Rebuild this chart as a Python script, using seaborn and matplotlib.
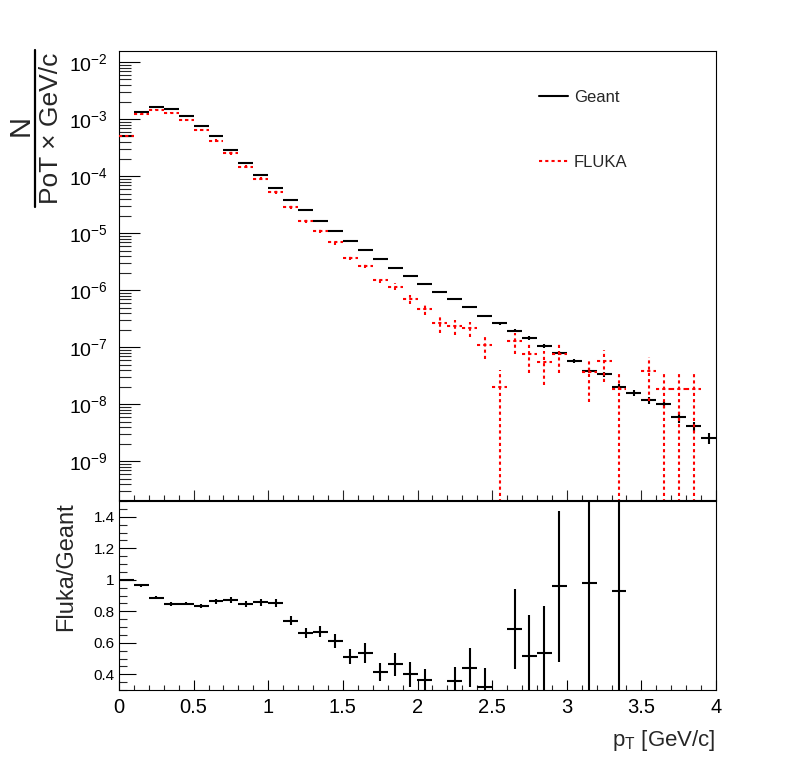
import matplotlib
matplotlib.use("Agg")
import matplotlib.pyplot as plt
from matplotlib.lines import Line2D
from matplotlib.ticker import MultipleLocator, FixedLocator, FuncFormatter, NullFormatter, LogFormatterSciNotation
import numpy as np
import pandas as pd
import seaborn as sns

# 40 bins of 0.1 GeV/c between 0 and 4
pt_low = np.round(np.arange(0.0, 4.0, 0.1), 1)
bin_half_width = 0.05

geant = [5.15e-4, 1.33e-3, 1.66e-3, 1.54e-3, 1.16e-3, 7.7e-4, 5.04e-4, 2.93e-4,
         1.73e-4, 1.05e-4, 6.3e-5, 3.89e-5, 2.56e-5, 1.66e-5, 1.10e-5, 7.33e-6,
         5.1e-6, 3.54e-6, 2.46e-6, 1.81e-6, 1.31e-6, 9.46e-7, 7.04e-7, 5.09e-7,
         3.54e-7, 2.67e-7, 1.95e-7, 1.46e-7, 1.05e-7, 8.04e-8, 5.75e-8, 3.88e-8,
         3.4e-8, 2.04e-8, 1.58e-8, 1.19e-8, 1.01e-8, 5.98e-9, 4.16e-9, 2.57e-9]
geant_rel_err = [0.005, 0.005, 0.005, 0.005, 0.005, 0.006, 0.007, 0.008,
                 0.01, 0.01, 0.012, 0.015, 0.015, 0.02, 0.02, 0.025,
                 0.025, 0.03, 0.03, 0.035, 0.04, 0.04, 0.045, 0.05,
                 0.055, 0.06, 0.065, 0.07, 0.075, 0.08, 0.09, 0.1,
                 0.1, 0.12, 0.11, 0.14, 0.15, 0.21, 0.2, 0.23]

fluka = [5.15e-4, 1.24e-3, 1.46e-3, 1.31e-3, 9.7e-4, 6.5e-4, 4.2e-4, 2.57e-4,
         1.48e-4, 9.1e-5, 5.37e-5, 2.93e-5, 1.66e-5, 1.10e-5, 6.95e-6, 3.73e-6,
         2.7e-6, 1.5e-6, 1.16e-6, 7.0e-7, 4.7e-7, 2.67e-7, 2.36e-7, 2.18e-7,
         1.1e-7, 2.04e-8, 1.29e-7, 7.6e-8, 5.5e-8, 7.6e-8, 0.0, 3.7e-8,
         5.8e-8, 1.88e-8, 0.0, 3.9e-8, 1.88e-8, 1.88e-8, 1.88e-8, 0.0]
fluka_rel_err = [0.02, 0.02, 0.02, 0.02, 0.04, 0.05, 0.06, 0.07,
                 0.07, 0.07, 0.07, 0.08, 0.08, 0.08, 0.1, 0.1,
                 0.1, 0.12, 0.14, 0.17, 0.22, 0.33, 0.3, 0.3,
                 0.43, 1.0, 0.4, 0.53, 0.6, 0.53, 0.0, 0.7,
                 0.58, 1.0, 0.0, 0.71, 1.0, 1.0, 1.0, 0.0]

nan = np.nan
ratio = [1.0, 0.964, 0.886, 0.847, 0.849, 0.832, 0.863, 0.87,
         0.847, 0.857, 0.851, 0.741, 0.661, 0.67, 0.611, 0.512,
         0.533, 0.412, 0.464, 0.40, 0.365, nan, 0.359, 0.441,
         0.32, nan, 0.687, 0.515, 0.535, 0.958, nan, 0.977,
         nan, 0.926, nan, nan, nan, nan, nan, nan]
ratio_err = [0.005, 0.008, 0.01, 0.012, 0.012, 0.014, 0.016, 0.018,
             0.02, 0.022, 0.024, 0.027, 0.03, 0.035, 0.046, 0.048,
             0.063, 0.057, 0.074, 0.078, 0.067, 0.0, 0.09, 0.124,
             0.12, 0.0, 0.256, 0.26, 0.30, 0.48, 0.0, 0.75,
             0.0, 0.93, 0.0, 0.0, 0.0, 0.0, 0.0, 0.0]

decades = [1e-9, 1e-8, 1e-7, 1e-6, 1e-5, 1e-4, 1e-3, 1e-2]
ratio_ticks = [0.4, 0.6, 0.8, 1.0, 1.2, 1.4]

df = pd.DataFrame({
    "pt": pt_low + bin_half_width,
    "geant": geant,
    "geant_err": np.array(geant) * np.array(geant_rel_err),
    "fluka": fluka,
    "fluka_err": np.array(fluka) * np.array(fluka_rel_err),
    "ratio": ratio,
    "ratio_err": ratio_err,
})

sns.set_theme(style="ticks")
plt.rcParams["font.family"] = ["Liberation Sans", "DejaVu Sans"]
plt.rcParams["mathtext.fontset"] = "custom"
plt.rcParams["mathtext.rm"] = "Liberation Sans"
plt.rcParams["mathtext.it"] = "Liberation Sans:italic"
plt.rcParams["axes.linewidth"] = 0.8
plt.rcParams["axes.edgecolor"] = "black"

LW = 1.5
DASH = (0, (1.5, 1.5))
W, H = 796, 772


def draw_hist(ax, x, y, err, color, ls, floor):
    ok = ~np.isnan(y) & (y > 0)
    x, y, err = x[ok], y[ok], err[ok]
    lo = np.maximum(y - err, floor)
    ax.vlines(x, lo, y + err, colors=color, linestyles=ls, linewidth=LW, zorder=3)
    ax.hlines(y, x - bin_half_width, x + bin_half_width, colors=color,
              linestyles=ls, linewidth=LW, zorder=3)


fig = plt.figure(figsize=(W / 100, H / 100), dpi=100)
ax_top = fig.add_axes([119 / W, (H - 500) / H, 597 / W, 449.3 / H])
ax_bot = fig.add_axes([119 / W, (H - 690) / H, 597 / W, 189 / H])

x = df["pt"].to_numpy()

# upper pad: spectra
ax_top.set_yscale("log")
draw_hist(ax_top, x, df["geant"].to_numpy(), df["geant_err"].to_numpy(), "black", "solid", 1e-14)
draw_hist(ax_top, x, df["fluka"].to_numpy(), df["fluka_err"].to_numpy(), "red", DASH, 1e-14)
ax_top.set_xlim(0, 4)
ax_top.set_ylim(2.1e-10, 1.6e-2)
ax_top.yaxis.set_major_locator(FixedLocator(decades))
ax_top.yaxis.set_major_formatter(LogFormatterSciNotation())
minor_y = [m * d for d in [1e-10] + decades for m in range(2, 10) if 2.1e-10 < m * d < 1.6e-2]
ax_top.yaxis.set_minor_locator(FixedLocator(minor_y))
ax_top.yaxis.set_minor_formatter(NullFormatter())
ax_top.xaxis.set_major_locator(MultipleLocator(0.5))
ax_top.xaxis.set_minor_locator(MultipleLocator(0.1))
ax_top.tick_params(axis="y", which="major", direction="in", length=15, width=0.8,
                   left=True, right=False, labelsize=14, pad=8, colors="black")
ax_top.tick_params(axis="y", which="minor", direction="in", length=8.5, width=0.8,
                   left=True, right=False)
ax_top.tick_params(axis="x", which="major", direction="in", length=7, width=0.8,
                   bottom=True, top=False, labelbottom=False)
ax_top.tick_params(axis="x", which="minor", direction="in", length=3.6, width=0.8,
                   bottom=True, top=False)

legend_handles = [
    Line2D([], [], color="black", lw=LW),
    Line2D([], [], color="red", lw=LW, ls=DASH),
]
fig.legend(legend_handles, ["Geant", "FLUKA"], loc="upper left",
           bbox_to_anchor=(539 / W, 1 - 90 / H), frameon=False, fontsize=12,
           labelspacing=3.0, handlelength=1.75, handletextpad=0.35,
           borderpad=0, borderaxespad=0)

# lower pad: ratio
draw_hist(ax_bot, x, df["ratio"].to_numpy(), df["ratio_err"].to_numpy(), "black", "solid", -1.0)
ax_bot.set_xlim(0, 4)
ax_bot.set_ylim(0.3, 1.5)
ax_bot.yaxis.set_major_locator(FixedLocator(ratio_ticks))
ax_bot.yaxis.set_minor_locator(MultipleLocator(0.05))
ax_bot.yaxis.set_major_formatter(FuncFormatter(lambda v, _: f"{v:g}"))
ax_bot.xaxis.set_major_locator(MultipleLocator(0.5))
ax_bot.xaxis.set_minor_locator(MultipleLocator(0.1))
ax_bot.xaxis.set_major_formatter(FuncFormatter(lambda v, _: f"{v:g}"))
ax_bot.tick_params(axis="y", which="major", direction="in", length=12, width=0.8,
                   left=True, right=False, labelsize=11, pad=3, colors="black")
ax_bot.tick_params(axis="y", which="minor", direction="in", length=6, width=0.8,
                   left=True, right=False)
ax_bot.tick_params(axis="x", which="major", direction="in", length=7, width=0.8,
                   bottom=True, top=False, labelsize=14.5, pad=6, colors="black")
ax_bot.tick_params(axis="x", which="minor", direction="in", length=3.6, width=0.8,
                   bottom=True, top=False)
ax_bot.set_xlabel(r"p$_\mathregular{T}$ [GeV/c]", loc="right", fontsize=16, labelpad=8)

for ax in (ax_top, ax_bot):
    ax.set_facecolor("white")
    for sp in ax.spines.values():
        sp.set_visible(True)
        sp.set_color("black")

# axis titles drawn the ROOT way
fig.text(21 / W, 1 - 125 / H, "N", rotation=90, ha="center", va="center", fontsize=21)
fig.add_artist(Line2D([35 / W, 35 / W], [1 - 50 / H, 1 - 207 / H], color="black",
                      lw=1.6, transform=fig.transFigure))
fig.text(51 / W, 1 - 128 / H, "PoT × GeV/c", rotation=90, ha="center", va="center",
         fontsize=19)
fig.text(66 / W, 1 - 567 / H, "Fluka/Geant", rotation=90, ha="center", va="center",
         fontsize=17)

fig.savefig("out.png", dpi=100, facecolor="white")
